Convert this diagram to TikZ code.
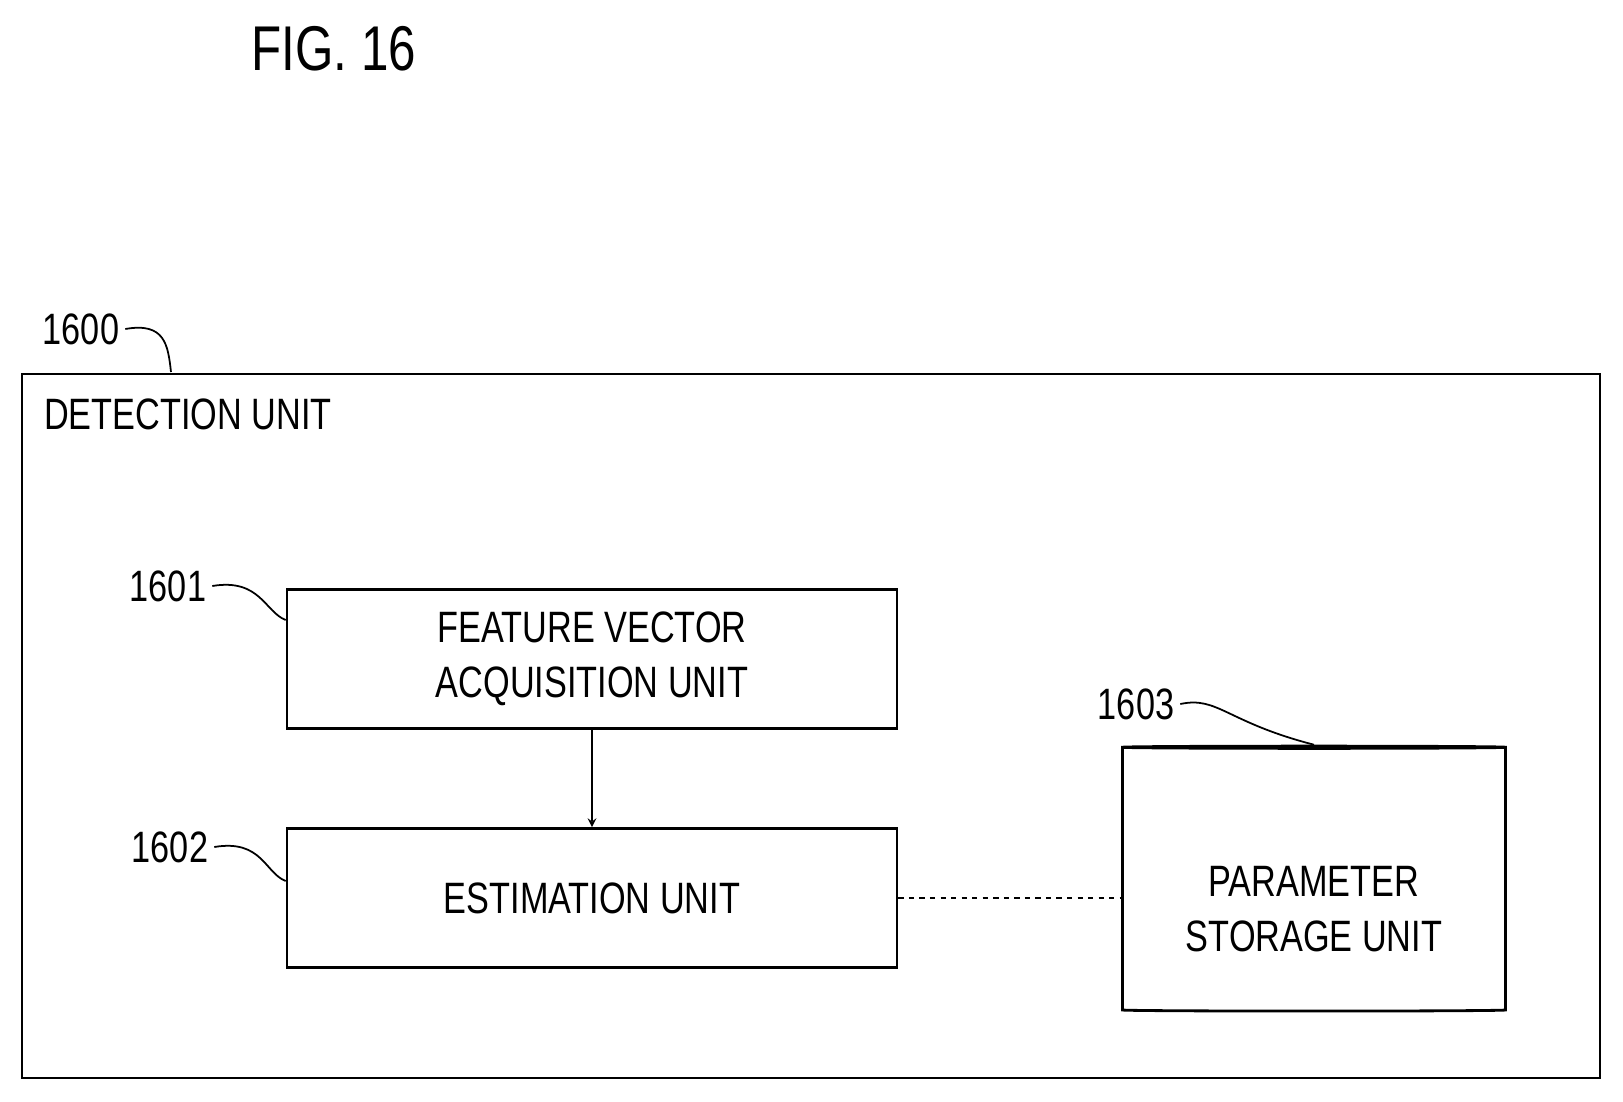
\documentclass[tikz,border=0pt]{standalone}
\usepackage{fontspec}
\setmainfont{Liberation Sans}
\usetikzlibrary{shapes.geometric}
\newcommand{\narrow}[1]{\scalebox{0.78}[1]{#1}}
\tikzset{
	unit/.style={draw=black, line width=1.6pt, minimum width=12.2cm, minimum height=2.78cm,
				 align=center, font=\fontsize{25}{31}\selectfont},
	num/.style={font=\fontsize{25}{30}\selectfont},
	lead/.style={line width=1pt}
}
\begin{document}
\begin{tikzpicture}[x=0.02cm, y=-0.02cm]
	\useasboundingbox (0,0) rectangle (1623,1102);
	\node (fig) at (334,49) {\fontsize{36}{40}\selectfont\narrow{FIG. 16}};
	\draw [line width=1.6pt] (22,374) rectangle (1600,1078);
	\node[anchor=west, font=\fontsize{25}{30}\selectfont] (det) at (38,414) {\narrow{DETECTION UNIT}};
	\node[num] (n1600) at (81,329) {\narrow{1600}};
	\coordinate (c1600) at (171,372);
	\draw [lead](n1600.east) .. controls (165,322) and (168,345) .. (c1600);

	\node[unit] (fva) at (592,659) {\narrow{FEATURE VECTOR}\\\narrow{ACQUISITION UNIT}};
	\node[unit] (est) at (592,898) {\narrow{ESTIMATION UNIT}};
	\node[num] (n1601) at (168,586) {\narrow{1601}};
	\node[num] (n1602) at (170,847) {\narrow{1602}};
	\draw [lead](n1601.east) .. controls (260,578) and (265,612) .. (fva.north west |- 0,620);
	\draw [lead](n1602.east) .. controls (262,839) and (265,873) .. (est.north west |- 0,881);

	\node[draw=black, line width=1.6pt, shape=cylinder, shape border rotate=90, aspect=0.19,
		  minimum width=7.66cm, minimum height=5.3cm, align=center,
		  font=\fontsize{25}{31}\selectfont] (store) at (1314,880) {};
	\node[align=center, font=\fontsize{25}{31}\selectfont] (storetxt) at (1314,909) {\narrow{PARAMETER}\\\narrow{STORAGE UNIT}};
	\node[num] (n1603) at (1136,704) {\narrow{1603}};
	\draw [lead](n1603.east) .. controls (1218,696) and (1226,722) .. (store.north);

	\draw [->, >=stealth, line width=1.2pt](fva) -- (est);
	\draw [dashed, line width=1pt](est.east) -- (store.west |- est.east);
\end{tikzpicture}
\end{document}
